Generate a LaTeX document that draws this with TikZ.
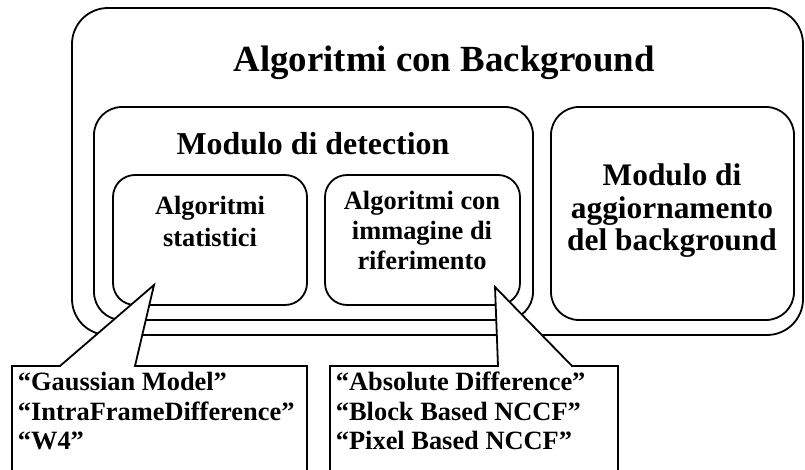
\documentclass[tikz,border=0pt]{standalone}
\usepackage{fontspec}
\setmainfont{Liberation Serif}
\begin{document}
\begin{tikzpicture}[x=1bp, y=-1bp, line width=1.8bp,
  rbox/.style={draw, rounded corners=#1, inner sep=0pt, outer sep=0pt},
  lbl/.style={anchor=base, inner sep=0pt, font=\bfseries\fontsize{#1}{#1}\selectfont},
  cline/.style={anchor=base west, inner sep=0pt, font=\bfseries\fontsize{26.5}{26.5}\selectfont},
  callout/.style={draw, fill=white, line join=miter}]
  \useasboundingbox (0,0) rectangle (805,470);
  \clip (0,0) rectangle (805,470);

  % containers
  \node[rbox=36bp, minimum width=731bp, minimum height=327bp] (outer)  at (437.5,171.5) {};
  \node[rbox=28bp, minimum width=439bp, minimum height=213bp] (detect) at (313.5,213.5) {};
  \node[rbox=28bp, minimum width=243bp, minimum height=213bp] (update) at (672.5,213.5) {};
  \node[rbox=22bp, minimum width=194bp, minimum height=130bp] (stat)   at (210,240) {};
  \node[rbox=22bp, minimum width=195bp, minimum height=130bp] (ref)    at (422.5,240) {};

  % titles
  \node[lbl=37] (tOuter)  at (444,72)  {Algoritmi con Background};
  \node[lbl=32] (tDetect) at (313,155) {Modulo di detection};
  \node[lbl=31.5] (tUp1) at (672,186) {Modulo di};
  \node[lbl=31.5] (tUp2) at (672,219) {aggiornamento};
  \node[lbl=31.5] (tUp3) at (672,251) {del background};
  \node[lbl=26.5] (tSt1) at (210,215) {Algoritmi};
  \node[lbl=26.5] (tSt2) at (210,247) {statistici};
  \node[lbl=26.5] (tRf1) at (422,210) {Algoritmi con};
  \node[lbl=26.5] (tRf2) at (422,240) {immagine di};
  \node[lbl=26.5] (tRf3) at (422,270) {riferimento};

  % callouts with pointers
  \coordinate (tipA) at (154,285);
  \coordinate (tipB) at (495,287);
  \draw[callout] (12,490) -- (12,366) -- (60,366) -- (tipA) -- (135,366)
                 -- (307,366) -- (307,490) -- cycle;
  \draw[callout] (330,490) -- (330,366) -- (498,366) -- (tipB) -- (572,366)
                 -- (618,366) -- (618,490) -- cycle;

  \node[cline] (cA1) at (17,390) {“Gaussian Model”};
  \node[cline] (cA2) at (17,420) {“IntraFrameDifference”};
  \node[cline] (cA3) at (17,449) {“W4”};
  \node[cline] (cB1) at (335,390) {“Absolute Difference”};
  \node[cline] (cB2) at (335,420) {“Block Based NCCF”};
  \node[cline] (cB3) at (335,449) {“Pixel Based NCCF”};
\end{tikzpicture}
\end{document}
